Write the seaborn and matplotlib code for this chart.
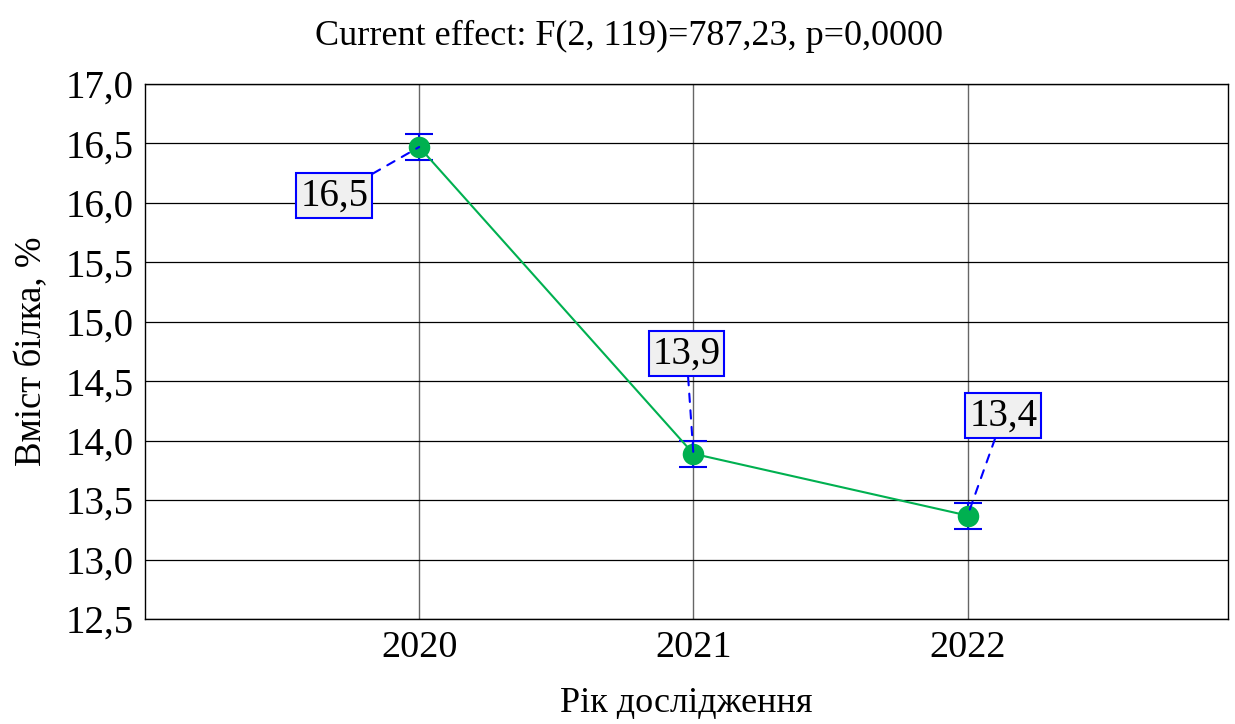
import matplotlib
matplotlib.use('Agg')
import matplotlib.pyplot as plt
import seaborn as sns
import pandas as pd

years = [2020, 2021, 2022]
protein = [16.47, 13.89, 13.37]
err = [0.11, 0.11, 0.11]
labels = ['16,5', '13,9', '13,4']
label_pos = [(2019.69, 16.06), (2020.975, 14.73), (2022.13, 14.21)]
yticks = [12.5, 13.0, 13.5, 14.0, 14.5, 15.0, 15.5, 16.0, 16.5, 17.0]
ytick_labels = ['12,5', '13,0', '13,5', '14,0', '14,5', '15,0', '15,5', '16,0', '16,5', '17,0']

sns.set_style('white')
plt.rcParams['font.family'] = ['Liberation Serif', 'DejaVu Serif']
plt.rcParams['text.color'] = 'black'
plt.rcParams['xtick.color'] = 'black'
plt.rcParams['ytick.color'] = 'black'
plt.rcParams['axes.labelcolor'] = 'black'

df = pd.DataFrame({'year': years, 'protein': protein})

fig = plt.figure(figsize=(12.35, 7.24), dpi=100)
ax = fig.add_axes([0.1174, 0.145, 0.877, 0.739])

ax.errorbar(years, protein, yerr=err, fmt='none', ecolor='#0000ee',
            elinewidth=1.5, capsize=10, capthick=1.5, zorder=3)
sns.lineplot(data=df, x='year', y='protein', ax=ax, color='#00b050',
             linewidth=1.5, marker='o', markersize=15.5, markeredgewidth=0,
             zorder=4)

for xv, yv, lab, pos in zip(years, protein, labels, label_pos):
    ax.annotate(lab, xy=(xv, yv), xytext=pos, textcoords='data',
                ha='center', va='center', fontsize=28, zorder=5,
                bbox=dict(boxstyle='square,pad=0.1', fc='#f0f0f0', ec='#0000ff', lw=1.5),
                arrowprops=dict(arrowstyle='-', color='#0000ff', lw=1.5,
                                linestyle=(0, (4, 4)), shrinkA=0, shrinkB=0))

ax.set_xlim(2019, 2022.95)
ax.set_ylim(12.5, 17.0)
ax.set_xticks(years)
ax.set_xticklabels([str(y) for y in years], fontsize=27.5)
ax.set_yticks(yticks)
ax.set_yticklabels(ytick_labels, fontsize=28)
ax.grid(True, axis='y', color='black', linewidth=0.9)
ax.grid(True, axis='x', color='#666666', linewidth=1.0)
ax.tick_params(axis='both', length=0, pad=8)
for s in ax.spines.values():
    s.set_color('black')
    s.set_linewidth(1.0)

fig.text(0.509, 0.95, 'Current effect: F(2, 119)=787,23, p=0,0000',
         fontsize=26, ha='center', va='center')
ax.set_xlabel('Рік дослідження', fontsize=26, labelpad=16)
ax.set_ylabel('Вміст білка, %', fontsize=26.5, labelpad=12)

fig.savefig('out.png', dpi=100)
